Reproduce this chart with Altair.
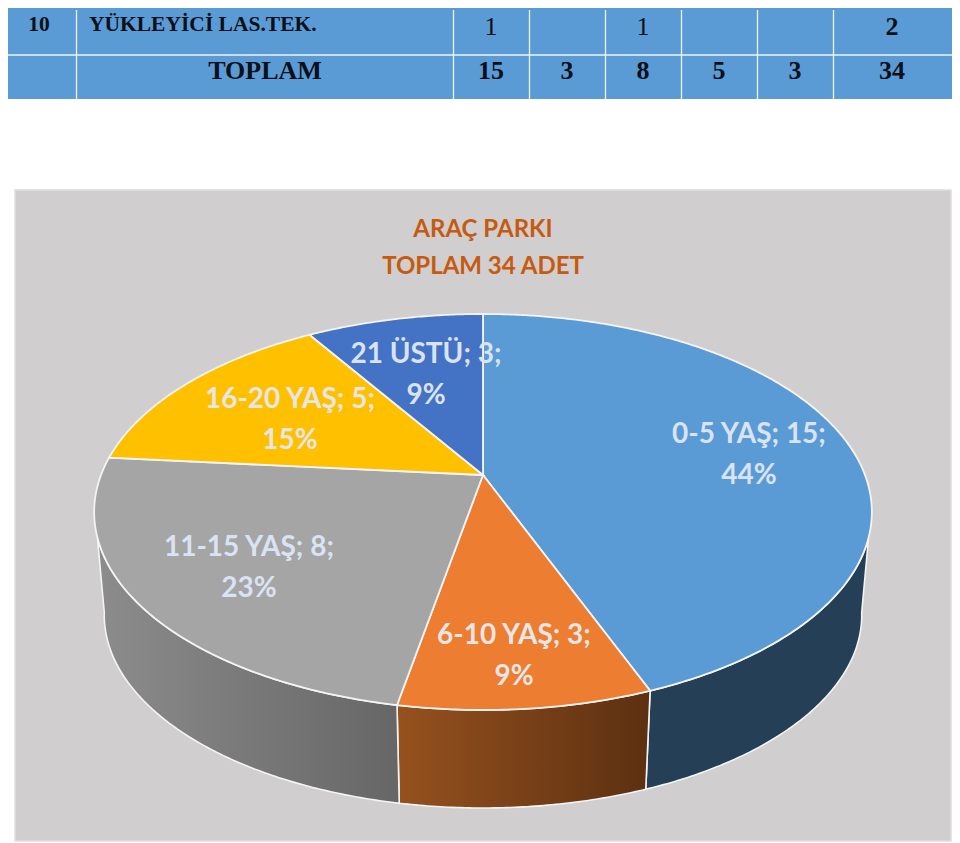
import math
import numpy as np
import pandas as pd
import altair as alt

# ---- chart values
categories = ["0-5 YAŞ", "6-10 YAŞ", "11-15 YAŞ", "16-20 YAŞ", "21 ÜSTÜ"]
counts = [15, 3, 8, 5, 3]
percents = [44, 9, 23, 15, 9]
title_lines = ["ARAÇ PARKI", "TOPLAM 34 ADET"]
row_10 = ["10", "YÜKLEYİCİ LAS.TEK.", "1", "", "1", "", "", "2"]
row_total = ["", "TOPLAM", "15", "3", "8", "5", "3", "34"]

# ---- styles and layout
slice_colors = ["#5b9bd5", "#ed7d31", "#a5a5a5", "#ffc000", "#4472c4"]
label_colors = ["#dae3f3", "#e7e6e6", "#dae3f3", "#e7e6e6", "#dae3f3"]
label_pos = [(749, 435), (514, 636), (249, 548), (290, 400), (426, 355)]
LABEL_FONT = "Lato"
LABEL_SIZE = 28
LINE_GAP = 41
col_edges = [76.5, 453.5, 529.5, 605.5, 681.5, 757.5, 833.5]
col_centers = [39, 89, 491, 567, 643, 719, 795, 892]
W, H = 952, 843
INK = "#0a0f18"

XS = alt.Scale(domain=[0, W], range=[0, W])
YS = alt.Scale(domain=[H, 0], range=[H, 0])
X = lambda f: alt.X(f, type="quantitative", scale=XS, axis=None)
Y = lambda f: alt.Y(f, type="quantitative", scale=YS, axis=None)

# perspective disc
CX, CY, A, K, D = 483.0, 475.0, 382.0, 0.1869, -102.3


def top_pt(deg):
    t = math.radians(deg)
    u, v = math.sin(t), math.cos(t)
    w = 1 + K * v
    return CX + A * u / w, (CY + D * v) / w


def low_pt(deg):
    x, y = top_pt(deg)
    return CX + 0.974 * (x - CX), 808 - 0.974 * (710 - y)


def poly_layer(points, fill, width=1.6):
    pts = [[float(a), float(b)] for a, b in points]
    pts.append(pts[0])
    feature = {"type": "Feature", "properties": {}, "geometry": {"type": "Polygon", "coordinates": [pts]}}
    data = alt.InlineData(values={"type": "FeatureCollection", "features": [feature]},
                          format=alt.DataFormat(property="features", type="json"))
    return alt.Chart(data).mark_geoshape(fill=fill, stroke="#f4f4f4", strokeWidth=width).project(
        type="identity", scale=1, translate=[0, 0])


total = sum(counts)
edges = np.cumsum([0] + counts) / total * 360.0


def arc(fn, a, b):
    n = max(3, int(abs(b - a)) * 2)
    return [fn(d) for d in np.linspace(a, b, n)]


def wall(a_top, b_top, a_low, b_low, fill):
    return poly_layer(arc(top_pt, a_top, b_top) + arc(low_pt, b_low, a_low), fill)


def grad(c0, c1):
    return alt.Gradient(gradient="linear", stops=[alt.GradientStop(offset=0, color=c0), alt.GradientStop(offset=1, color=c1)],
                        x1=0, x2=1, y1=0, y2=0)


layers = []
# panel
panel = pd.DataFrame({"x": [15], "x2": [951], "y": [190], "y2": [841]})
layers.append(alt.Chart(panel).mark_rect(fill="#d0cece", stroke="#dedede", strokeWidth=1.5).encode(
    x=X("x"), x2="x2", y=Y("y"), y2="y2"))

# table
band = pd.DataFrame({"x": [1], "x2": [952], "y": [4], "y2": [99]})
layers.append(alt.Chart(band).mark_rect(fill="#5b9bd5").encode(x=X("x"), x2="x2", y=Y("y"), y2="y2"))
vlines = pd.DataFrame({"x": col_edges, "y": [10] * len(col_edges), "y2": [99] * len(col_edges)})
layers.append(alt.Chart(vlines).mark_rule(color="#eef4fa", strokeWidth=1.3).encode(x=X("x"), y=Y("y"), y2="y2"))
hline = pd.DataFrame({"x": [1], "x2": [952], "y": [55]})
layers.append(alt.Chart(hline).mark_rule(color="#eef4fa", strokeWidth=1.5).encode(x=X("x"), x2="x2", y=Y("y")))

first = pd.DataFrame({"t": [row_10[0]], "x": [col_centers[0]], "y": [25]})
layers.append(alt.Chart(first).mark_text(font="Liberation Serif", fontWeight="bold", fontSize=21.5, color=INK, align="center", baseline="middle").encode(x=X("x"), y=Y("y"), text="t"))
second = pd.DataFrame({"t": [row_10[1]], "x": [col_centers[1]], "y": [25]})
layers.append(alt.Chart(second).mark_text(font="Liberation Serif", fontWeight="bold", fontSize=21.5, color=INK, align="left", baseline="middle").encode(x=X("x"), y=Y("y"), text="t"))
reg = pd.DataFrame([{"t": row_10[i], "x": col_centers[i], "y": 27} for i in (2, 4) if row_10[i]])
layers.append(alt.Chart(reg).mark_text(font="Liberation Serif", fontSize=26, color=INK, align="center", baseline="middle").encode(x=X("x"), y=Y("y"), text="t"))
bold = pd.DataFrame([{"t": row_10[7], "x": col_centers[7], "y": 27}] +
                    [{"t": row_total[i], "x": col_centers[i], "y": 71} for i in (2, 3, 4, 5, 6, 7)] +
                    [{"t": row_total[1], "x": 265, "y": 71}])
layers.append(alt.Chart(bold).mark_text(font="Liberation Serif", fontWeight="bold", fontSize=26, color=INK, align="center", baseline="middle").encode(x=X("x"), y=Y("y"), text="t"))

# walls (side of the disc, near half only)
layers.append(wall(108, edges[1], 100, edges[1], "#243f56"))
layers.append(wall(edges[1], edges[2], edges[1], edges[2], grad("#96511e", "#5c3011")))
layers.append(wall(edges[2], 252, edges[2], 260, grad("#8c8c8c", "#666666")))

# top slices
for i, c in enumerate(slice_colors):
    pts = [(CX, CY)] + arc(top_pt, edges[i], edges[i + 1])
    layers.append(poly_layer(pts, c, 1.8))

# title
title_df = pd.DataFrame({"t": title_lines, "x": [483, 483], "y": [230, 267]})
layers.append(alt.Chart(title_df).mark_text(font=LABEL_FONT, fontWeight="bold", fontSize=24, color="#c55a11", align="center", baseline="middle").encode(x=X("x"), y=Y("y"), text="t"))

# data labels
rows = []
for cat, n, p, col, (lx, ly) in zip(categories, counts, percents, label_colors, label_pos):
    rows.append({"t": f"{cat}; {n};", "x": lx, "y": ly, "c": col})
    rows.append({"t": f"{p}%", "x": lx, "y": ly + LINE_GAP, "c": col})
labels = pd.DataFrame(rows)
layers.append(alt.Chart(labels).mark_text(font=LABEL_FONT, fontWeight="bold", fontSize=LABEL_SIZE, align="center", baseline="middle").encode(
    x=X("x"), y=Y("y"), text="t", color=alt.Color("c:N", scale=None)))

chart = alt.layer(*layers).properties(
    width=W, height=H, background="white",
    autosize=alt.AutoSizeParams(type="none"),
    padding={"left": -8, "top": -8, "right": 0, "bottom": 0},
).configure_view(stroke=None)

chart.save("out.html", embed_options={"renderer": "svg", "actions": False})
